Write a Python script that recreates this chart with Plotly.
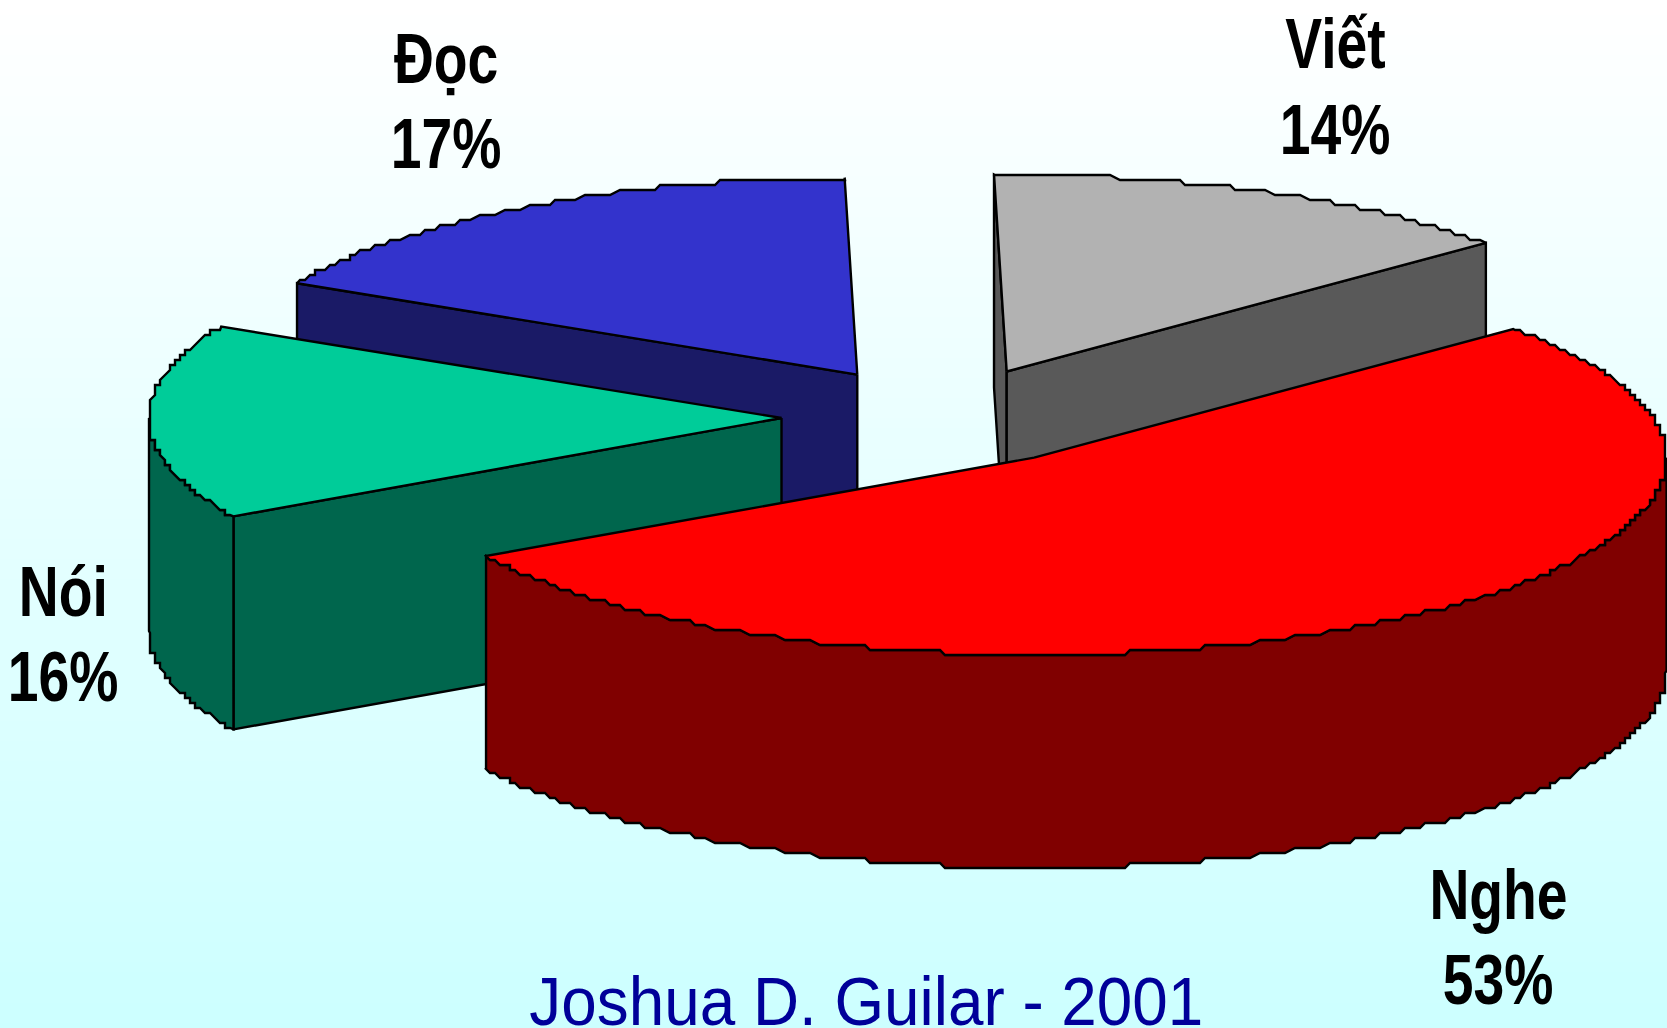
import numpy as np
import plotly.graph_objects as go

# ---- data ----
categories = ["Viết", "Nghe", "Nói", "Đọc"]
values = [14, 53, 16, 17]
top_colors = ["#B2B2B2", "#FF0000", "#00CC99", "#3333CC"]
side_colors = ["#595959", "#800000", "#00664D", "#1A1A66"]
draw_order = ["Viết", "Đọc", "Nói", "Nghe"]
credit = "Joshua D. Guilar - 2001"

# ---- layout constants (page pixels) ----
W, H = 1667, 1028
CX, CY = 941.5, 417
A, B, DEPTH = 632.5, 197, 213
EXPLODE = 0.253
START = -91.15
GRID = 5.0
STEP = 0.7
label_pos = {"Viết": (1335, 44, 130), "Nghe": (1498, 895, 980),
             "Nói": (63, 592, 677), "Đọc": (446, 59, 144)}


def arc(t0, t1, cx, cy):
    # samples lie on one shared angular grid, so rim and wall edges coincide
    inner = np.arange(np.ceil(t0 / STEP + 1e-6), np.floor(t1 / STEP - 1e-6) + 1) * STEP
    t = np.radians(inner)
    x = np.round((cx + A * np.cos(t)) / GRID) * GRID
    y = np.round((cy + B * np.sin(t)) / GRID) * GRID
    e = np.radians([t0, t1])
    ex, ey = cx + A * np.cos(e), cy + B * np.sin(e)
    return np.r_[ex[0], x, ex[1]], np.r_[ey[0], y, ey[1]]


fig = go.Figure()

# background gradient
grad_y = np.linspace(0, H, 103)
fig.add_trace(go.Heatmap(
    x=[0, W], y=grad_y, z=[[v, v] for v in grad_y / H],
    colorscale=[[0, "#FFFFFF"], [1, "#CCFFFF"]], showscale=False, hoverinfo="skip",
))


def poly(x, y, color):
    fig.add_trace(go.Scatter(
        x=list(x) + [x[0]], y=list(y) + [y[0]], mode="lines", fill="toself",
        fillcolor=color, line=dict(color="black", width=2.4), hoverinfo="skip",
        showlegend=False,
    ))


# angular spans of each slice from the values
spans = {}
ang = START
for c, v, tc, sc in zip(categories, values, top_colors, side_colors):
    sweep = v / sum(values) * 360
    spans[c] = (ang, ang + sweep, tc, sc)
    ang += sweep

for c in draw_order:
    t0, t1, tc, sc = spans[c]
    mid = np.radians((t0 + t1) / 2)
    cx = CX + EXPLODE * A * np.cos(mid)
    cy = CY + EXPLODE * B * np.sin(mid)
    # radial faces, drawn only if they face the viewer
    for t, normal in ((t0, t0 - 90), (t1, t1 + 90)):
        if np.sin(np.radians(normal)) > 0:
            ex = cx + A * np.cos(np.radians(t))
            ey = cy + B * np.sin(np.radians(t))
            poly([cx, ex, ex, cx], [cy, ey, ey + DEPTH, cy + DEPTH], sc)
    # outer wall: only the part of the rim on the viewer's side
    for lo, hi in ((0, 180), (360, 540)):
        a0, a1 = max(t0, lo), min(t1, hi)
        if a1 > a0:
            xa, ya = arc(a0, a1, cx, cy)
            poly(np.r_[xa, xa[::-1]], np.r_[ya, ya[::-1] + DEPTH], sc)
    # top face
    xa, ya = arc(t0, t1, cx, cy)
    poly(np.r_[cx, xa], np.r_[cy, ya], tc)

annotations = []
LABEL_FONT = dict(family="Liberation Sans", size=70, color="black")
for c, v in zip(categories, values):
    lx, y1, y2 = label_pos[c]
    annotations.append(dict(x=lx, y=y1, text=f"<b>{c}</b>", showarrow=False,
                            xanchor="center", yanchor="middle", font=LABEL_FONT))
    annotations.append(dict(x=lx, y=y2, text=f"<b>{v}%</b>", showarrow=False,
                            xanchor="center", yanchor="middle", font=LABEL_FONT))
annotations.append(dict(x=866, y=1001, text=credit, showarrow=False, xanchor="center",
                        yanchor="middle",
                        font=dict(family="Liberation Sans", size=69, color="#000099")))

fig.update_layout(
    width=W, height=H, margin=dict(l=0, r=0, t=0, b=0), showlegend=False,
    xaxis=dict(range=[0, W], visible=False, fixedrange=True),
    yaxis=dict(range=[H, 0], visible=False, fixedrange=True),
    annotations=annotations, plot_bgcolor="#FFFFFF", paper_bgcolor="#FFFFFF",
)

# full-bleed page, and condense the label glyphs horizontally (no narrow face is installed)
post = """
document.body.style.margin = '0';
document.documentElement.style.overflow = 'hidden';
document.querySelectorAll('text.annotation-text').forEach(function (el) {
  var s = el.textContent.indexOf('Joshua') >= 0 ? 0.925 : 0.79;
  var b = el.getBBox();
  var c = b.x + b.width / 2;
  el.setAttribute('transform', 'translate(' + c + ' 0) scale(' + s + ' 1) translate(' + (-c) + ' 0)');
});
"""
fig.write_html("out.html", config=dict(displayModeBar=False), post_script=post)
